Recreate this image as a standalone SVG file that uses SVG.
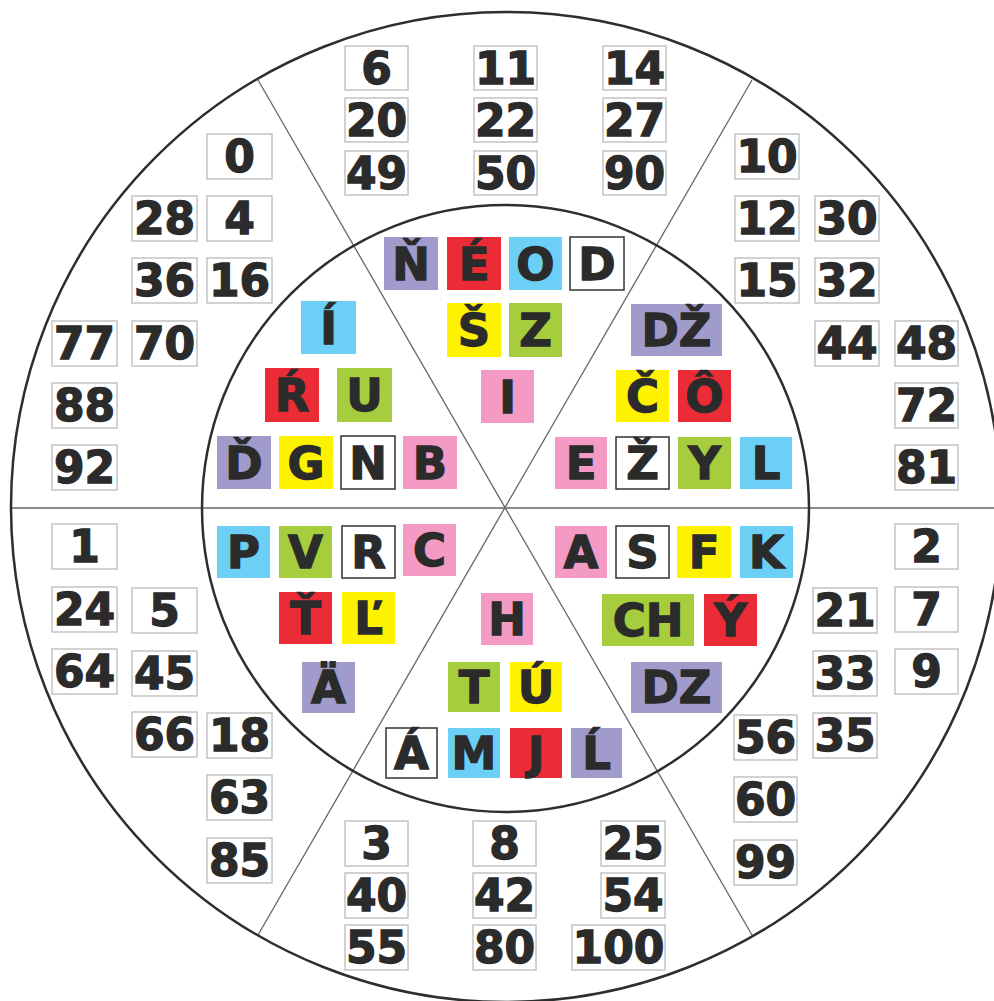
<svg xmlns="http://www.w3.org/2000/svg" width="994" height="1001" viewBox="0 0 994 1001">
<style>
.nb{fill:#fff;stroke:#c4c4c4;stroke-width:1.5}
.nt{font-family:"DejaVu Sans",sans-serif;font-weight:bold;font-size:44px;fill:#2b2b2b;stroke:#2b2b2b;stroke-width:1.3;text-anchor:middle}
.lt{font-family:"DejaVu Sans",sans-serif;font-weight:bold;font-size:45px;fill:#2b2b2b;stroke:#2b2b2b;stroke-width:1.3;text-anchor:middle}
.pu{fill:#a09bcb}.re{fill:#eb2b35}.bl{fill:#6ccff5}.ye{fill:#fff200}.gr{fill:#a5cd3d}.pi{fill:#f39bc5}
.wh{fill:#fff;stroke:#333;stroke-width:1.5}
.circ{fill:none;stroke:#2e2e2e;stroke-width:2.5}
.div{stroke:#666;stroke-width:1.3;fill:none}
</style>
<rect width="994" height="1001" fill="#fff"/>
<g id="connectors">
<line class="div" x1="10" y1="508" x2="994" y2="508"/>
<line class="div" x1="258" y1="80" x2="752" y2="935"/>
<line class="div" x1="752" y1="80" x2="258" y2="935"/>
<circle class="circ" cx="506" cy="507" r="495"/>
<circle class="circ" cx="505.5" cy="508.5" r="303.5"/>
</g>
<g id="numbers">
<g id="n6"><rect class="nb" x="345" y="46" width="63" height="44"/><text class="nt" x="376.5" y="84">6</text></g>
<g id="n20"><rect class="nb" x="345" y="98" width="63" height="44"/><text class="nt" x="376.5" y="136">20</text></g>
<g id="n49"><rect class="nb" x="345" y="151" width="63" height="44"/><text class="nt" x="376.5" y="189">49</text></g>
<g id="n11"><rect class="nb" x="474" y="46" width="63" height="44"/><text class="nt" x="505.5" y="84">11</text></g>
<g id="n22"><rect class="nb" x="474" y="98" width="63" height="44"/><text class="nt" x="505.5" y="136">22</text></g>
<g id="n50"><rect class="nb" x="474" y="151" width="63" height="44"/><text class="nt" x="505.5" y="189">50</text></g>
<g id="n14"><rect class="nb" x="603" y="46" width="63" height="44"/><text class="nt" x="634.5" y="84">14</text></g>
<g id="n27"><rect class="nb" x="603" y="98" width="63" height="44"/><text class="nt" x="634.5" y="136">27</text></g>
<g id="n90"><rect class="nb" x="603" y="151" width="63" height="44"/><text class="nt" x="634.5" y="189">90</text></g>

<g id="n0"><rect class="nb" x="207" y="134" width="65" height="45"/><text class="nt" x="239.5" y="172">0</text></g>
<g id="n28"><rect class="nb" x="132" y="196" width="65" height="45"/><text class="nt" x="164.5" y="234">28</text></g>
<g id="n4"><rect class="nb" x="207" y="196" width="65" height="45"/><text class="nt" x="239.5" y="234">4</text></g>
<g id="n36"><rect class="nb" x="132" y="258" width="65" height="45"/><text class="nt" x="164.5" y="296">36</text></g>
<g id="n16"><rect class="nb" x="207" y="258" width="65" height="45"/><text class="nt" x="239.5" y="296">16</text></g>
<g id="n77"><rect class="nb" x="52" y="321" width="65" height="45"/><text class="nt" x="84.5" y="359">77</text></g>
<g id="n70"><rect class="nb" x="132" y="321" width="65" height="45"/><text class="nt" x="164.5" y="359">70</text></g>
<g id="n88"><rect class="nb" x="52" y="383" width="65" height="45"/><text class="nt" x="84.5" y="421">88</text></g>
<g id="n92"><rect class="nb" x="52" y="445" width="65" height="45"/><text class="nt" x="84.5" y="483">92</text></g>

<g id="n10"><rect class="nb" x="735" y="134" width="64" height="45"/><text class="nt" x="767" y="172">10</text></g>
<g id="n12"><rect class="nb" x="735" y="196" width="64" height="45"/><text class="nt" x="767" y="234">12</text></g>
<g id="n30"><rect class="nb" x="815" y="196" width="64" height="45"/><text class="nt" x="847" y="234">30</text></g>
<g id="n15"><rect class="nb" x="735" y="258" width="64" height="45"/><text class="nt" x="767" y="296">15</text></g>
<g id="n32"><rect class="nb" x="815" y="258" width="64" height="45"/><text class="nt" x="847" y="296">32</text></g>
<g id="n44"><rect class="nb" x="815" y="321" width="64" height="45"/><text class="nt" x="847" y="359">44</text></g>
<g id="n48"><rect class="nb" x="895" y="321" width="63" height="45"/><text class="nt" x="926.5" y="359">48</text></g>
<g id="n72"><rect class="nb" x="895" y="383" width="63" height="45"/><text class="nt" x="926.5" y="421">72</text></g>
<g id="n81"><rect class="nb" x="895" y="445" width="63" height="45"/><text class="nt" x="926.5" y="483">81</text></g>

<g id="n1"><rect class="nb" x="52" y="524" width="65" height="45"/><text class="nt" x="84.5" y="562">1</text></g>
<g id="n24"><rect class="nb" x="52" y="587" width="65" height="45"/><text class="nt" x="84.5" y="625">24</text></g>
<g id="n5"><rect class="nb" x="132" y="588" width="65" height="45"/><text class="nt" x="164.5" y="626">5</text></g>
<g id="n64"><rect class="nb" x="52" y="649" width="65" height="45"/><text class="nt" x="84.5" y="687">64</text></g>
<g id="n45"><rect class="nb" x="132" y="651" width="65" height="45"/><text class="nt" x="164.5" y="689">45</text></g>
<g id="n66"><rect class="nb" x="132" y="712" width="65" height="45"/><text class="nt" x="164.5" y="750">66</text></g>
<g id="n18"><rect class="nb" x="207" y="713" width="65" height="45"/><text class="nt" x="239.5" y="751">18</text></g>
<g id="n63"><rect class="nb" x="207" y="775" width="65" height="45"/><text class="nt" x="239.5" y="813">63</text></g>
<g id="n85"><rect class="nb" x="207" y="838" width="65" height="45"/><text class="nt" x="239.5" y="876">85</text></g>

<g id="n3"><rect class="nb" x="345" y="821" width="63" height="45"/><text class="nt" x="376.5" y="859">3</text></g>
<g id="n40"><rect class="nb" x="345" y="873" width="63" height="45"/><text class="nt" x="376.5" y="911">40</text></g>
<g id="n55"><rect class="nb" x="345" y="925" width="63" height="45"/><text class="nt" x="376.5" y="963">55</text></g>
<g id="n8"><rect class="nb" x="473" y="821" width="63" height="45"/><text class="nt" x="504.5" y="859">8</text></g>
<g id="n42"><rect class="nb" x="473" y="873" width="63" height="45"/><text class="nt" x="504.5" y="911">42</text></g>
<g id="n80"><rect class="nb" x="473" y="925" width="63" height="45"/><text class="nt" x="504.5" y="963">80</text></g>
<g id="n25"><rect class="nb" x="601" y="821" width="64" height="45"/><text class="nt" x="633" y="859">25</text></g>
<g id="n54"><rect class="nb" x="601" y="873" width="64" height="45"/><text class="nt" x="633" y="911">54</text></g>
<g id="n100"><rect class="nb" x="572" y="925" width="93" height="45"/><text class="nt" x="618.5" y="963">100</text></g>

<g id="n2"><rect class="nb" x="895" y="524" width="63" height="45"/><text class="nt" x="926.5" y="562">2</text></g>
<g id="n21"><rect class="nb" x="813" y="588" width="64" height="45"/><text class="nt" x="845" y="626">21</text></g>
<g id="n7"><rect class="nb" x="895" y="587" width="63" height="45"/><text class="nt" x="926.5" y="625">7</text></g>
<g id="n33"><rect class="nb" x="813" y="651" width="64" height="45"/><text class="nt" x="845" y="689">33</text></g>
<g id="n9"><rect class="nb" x="895" y="649" width="63" height="45"/><text class="nt" x="926.5" y="687">9</text></g>
<g id="n35"><rect class="nb" x="813" y="713" width="64" height="45"/><text class="nt" x="845" y="751">35</text></g>
<g id="n56"><rect class="nb" x="734" y="715" width="63" height="45"/><text class="nt" x="765.5" y="753">56</text></g>
<g id="n60"><rect class="nb" x="734" y="777" width="63" height="45"/><text class="nt" x="765.5" y="815">60</text></g>
<g id="n99"><rect class="nb" x="734" y="840" width="63" height="45"/><text class="nt" x="765.5" y="878">99</text></g>
</g>
<g id="letters">
<g id="l-N-caron"><rect class="pu" x="384" y="237" width="54" height="53"/><text class="lt" x="411" y="280">Ň</text></g>
<g id="l-E-acute"><rect class="re" x="447" y="237" width="54" height="53"/><text class="lt" x="474" y="280">É</text></g>
<g id="l-O"><rect class="bl" x="509" y="237" width="53" height="53"/><text class="lt" x="535.5" y="280">O</text></g>
<g id="l-D"><rect class="wh" x="570" y="237" width="54" height="53"/><text class="lt" x="597" y="280">D</text></g>
<g id="l-S-caron"><rect class="ye" x="447" y="303" width="54" height="54"/><text class="lt" x="474" y="346">Š</text></g>
<g id="l-Z"><rect class="gr" x="509" y="303" width="53" height="54"/><text class="lt" x="535.5" y="346">Z</text></g>
<g id="l-I"><rect class="pi" x="481" y="370" width="53" height="53"/><text class="lt" x="507.5" y="413">I</text></g>

<g id="l-I-acute"><rect class="bl" x="301" y="301" width="55" height="53"/><text class="lt" x="328.5" y="344">Í</text></g>
<g id="l-R-acute"><rect class="re" x="265" y="368" width="54" height="54"/><text class="lt" x="292" y="411">Ŕ</text></g>
<g id="l-U"><rect class="gr" x="337" y="368" width="55" height="54"/><text class="lt" x="364.5" y="411">U</text></g>
<g id="l-D-caron"><rect class="pu" x="217" y="436" width="54" height="53"/><text class="lt" x="244" y="479">Ď</text></g>
<g id="l-G"><rect class="ye" x="279" y="436" width="54" height="53"/><text class="lt" x="306" y="479">G</text></g>
<g id="l-N"><rect class="wh" x="341" y="436" width="54" height="53"/><text class="lt" x="368" y="479">N</text></g>
<g id="l-B"><rect class="pi" x="403" y="436" width="54" height="53"/><text class="lt" x="430" y="479">B</text></g>

<g id="l-DZ-caron"><rect class="pu" x="631" y="304" width="91" height="52"/><text class="lt" x="676.5" y="346">DŽ</text></g>
<g id="l-C-caron"><rect class="ye" x="616" y="370" width="53" height="52"/><text class="lt" x="642.5" y="412">Č</text></g>
<g id="l-O-circ"><rect class="re" x="678" y="370" width="53" height="52"/><text class="lt" x="704.5" y="412">Ô</text></g>
<g id="l-E"><rect class="pi" x="555" y="437" width="52" height="52"/><text class="lt" x="581" y="479">E</text></g>
<g id="l-Z-caron"><rect class="wh" x="616" y="437" width="53" height="52"/><text class="lt" x="642.5" y="479">Ž</text></g>
<g id="l-Y"><rect class="gr" x="678" y="437" width="53" height="52"/><text class="lt" x="704.5" y="479">Y</text></g>
<g id="l-L"><rect class="bl" x="740" y="437" width="52" height="52"/><text class="lt" x="766" y="479">L</text></g>

<g id="l-P"><rect class="bl" x="217" y="526" width="53" height="52"/><text class="lt" x="243.5" y="568">P</text></g>
<g id="l-V"><rect class="gr" x="279" y="526" width="53" height="52"/><text class="lt" x="305.5" y="568">V</text></g>
<g id="l-R"><rect class="wh" x="342" y="526" width="53" height="52"/><text class="lt" x="368.5" y="568">R</text></g>
<g id="l-C"><rect class="pi" x="403" y="524" width="53" height="52"/><text class="lt" x="429.5" y="566">C</text></g>
<g id="l-T-caron"><rect class="re" x="279" y="592" width="53" height="52"/><text class="lt" x="305.5" y="634">Ť</text></g>
<g id="l-L-caron"><rect class="ye" x="342" y="592" width="53" height="52"/><text class="lt" x="368.5" y="634">Ľ</text></g>
<g id="l-A-uml"><rect class="pu" x="302" y="662" width="53" height="51"/><text class="lt" x="328.5" y="703">Ä</text></g>

<g id="l-H"><rect class="pi" x="481" y="593" width="52" height="52"/><text class="lt" x="507" y="635">H</text></g>
<g id="l-T"><rect class="gr" x="448" y="662" width="52" height="50"/><text class="lt" x="474" y="703">T</text></g>
<g id="l-U-acute"><rect class="ye" x="510" y="662" width="52" height="50"/><text class="lt" x="536" y="703">Ú</text></g>
<g id="l-A-acute"><rect class="wh" x="386" y="728" width="51" height="50"/><text class="lt" x="411.5" y="769">Á</text></g>
<g id="l-M"><rect class="bl" x="448" y="728" width="52" height="50"/><text class="lt" x="474" y="769">M</text></g>
<g id="l-J"><rect class="re" x="510" y="728" width="52" height="50"/><text class="lt" x="536" y="769">J</text></g>
<g id="l-L-acute"><rect class="pu" x="571" y="728" width="51" height="50"/><text class="lt" x="596.5" y="769">Ĺ</text></g>

<g id="l-A"><rect class="pi" x="555" y="526" width="52" height="52"/><text class="lt" x="581" y="568">A</text></g>
<g id="l-S"><rect class="wh" x="616" y="526" width="53" height="52"/><text class="lt" x="642.5" y="568">S</text></g>
<g id="l-F"><rect class="ye" x="677" y="526" width="54" height="52"/><text class="lt" x="704" y="568">F</text></g>
<g id="l-K"><rect class="bl" x="740" y="526" width="53" height="52"/><text class="lt" x="766.5" y="568">K</text></g>
<g id="l-CH"><rect class="gr" x="602" y="594" width="92" height="52"/><text class="lt" x="648" y="636">CH</text></g>
<g id="l-Y-acute"><rect class="re" x="704" y="594" width="53" height="52"/><text class="lt" x="730.5" y="636">Ý</text></g>
<g id="l-DZ"><rect class="pu" x="631" y="662" width="91" height="51"/><text class="lt" x="676.5" y="703">DZ</text></g>
</g>
</svg>
